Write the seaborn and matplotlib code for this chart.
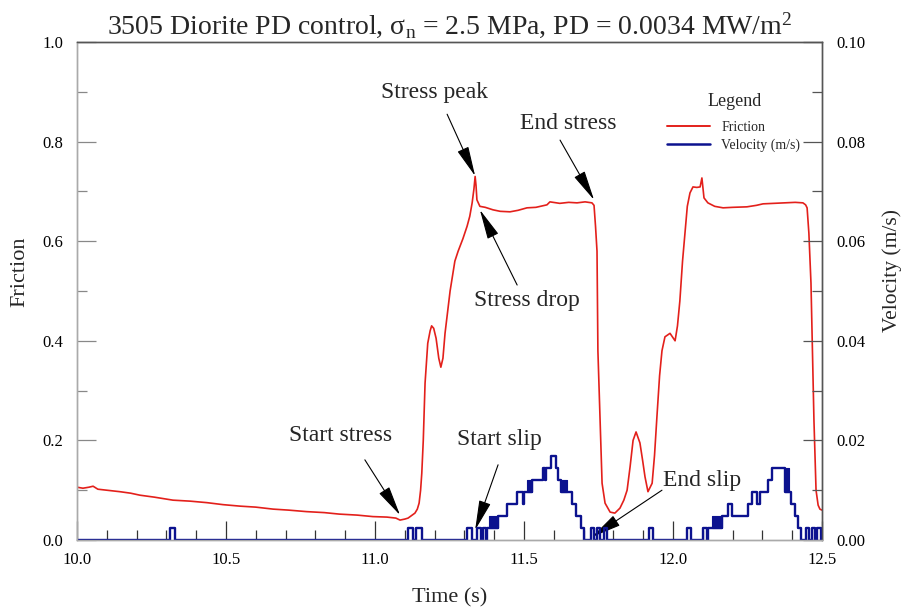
import matplotlib
matplotlib.use("Agg")
import matplotlib.pyplot as plt
import seaborn as sns
import pandas as pd
from matplotlib.ticker import MultipleLocator, FormatStrFormatter
from matplotlib.lines import Line2D

sns.set_theme(style="white")
plt.rcParams["font.family"] = ["Liberation Serif", "DejaVu Serif"]
plt.rcParams["mathtext.fontset"] = "custom"
plt.rcParams["mathtext.rm"] = "Liberation Serif"
plt.rcParams["mathtext.it"] = "Liberation Serif:italic"

# ---------------- data ----------------
fric_t = [10.000, 10.020, 10.040, 10.054, 10.070, 10.100, 10.144, 10.180, 10.211,
          10.260, 10.322, 10.380, 10.436, 10.490, 10.547, 10.600, 10.658, 10.710,
          10.770, 10.830, 10.880, 10.940, 10.993, 11.040, 11.070, 11.084, 11.100,
          11.111, 11.125, 11.134, 11.142, 11.148, 11.153, 11.157, 11.162, 11.168,
          11.177, 11.185, 11.190, 11.197, 11.205, 11.214, 11.221, 11.228, 11.235,
          11.252, 11.268, 11.279, 11.295, 11.309, 11.318, 11.326, 11.332, 11.336,
          11.339, 11.342, 11.352, 11.370, 11.396, 11.420, 11.453, 11.480, 11.510,
          11.540, 11.577, 11.587, 11.620, 11.650, 11.678, 11.705, 11.728, 11.735,
          11.740, 11.745, 11.748, 11.755, 11.762, 11.772, 11.789, 11.805, 11.822,
          11.835, 11.846, 11.856, 11.866, 11.876, 11.889, 11.898, 11.906, 11.916,
          11.930, 11.938, 11.946, 11.955, 11.963, 11.973, 11.990, 12.007, 12.015,
          12.023, 12.032, 12.040, 12.048, 12.057, 12.067, 12.080, 12.091, 12.097,
          12.104, 12.117, 12.140, 12.168, 12.200, 12.248, 12.280, 12.302, 12.340,
          12.383, 12.410, 12.436, 12.445, 12.450, 12.456, 12.463, 12.468, 12.473,
          12.480, 12.487, 12.493, 12.500]
fric_v = [0.106, 0.104, 0.106, 0.108, 0.102, 0.100, 0.097, 0.094, 0.090,
          0.086, 0.080, 0.078, 0.075, 0.071, 0.068, 0.066, 0.062, 0.060,
          0.057, 0.055, 0.052, 0.050, 0.047, 0.046, 0.044, 0.040, 0.042,
          0.044, 0.050, 0.054, 0.062, 0.074, 0.100, 0.134, 0.200, 0.315,
          0.395, 0.420, 0.430, 0.425, 0.405, 0.365, 0.347, 0.365, 0.415,
          0.500, 0.560, 0.580, 0.605, 0.630, 0.650, 0.677, 0.705, 0.730,
          0.712, 0.683, 0.670, 0.668, 0.663, 0.660, 0.659, 0.662, 0.667,
          0.668, 0.673, 0.679, 0.676, 0.678, 0.677, 0.679, 0.677, 0.672,
          0.630, 0.580, 0.380, 0.250, 0.114, 0.074, 0.056, 0.054, 0.064,
          0.080, 0.100, 0.147, 0.200, 0.217, 0.195, 0.160, 0.127, 0.097,
          0.114, 0.170, 0.247, 0.330, 0.380, 0.408, 0.415, 0.400, 0.430,
          0.480, 0.560, 0.616, 0.670, 0.697, 0.709, 0.708, 0.709, 0.727,
          0.687, 0.677, 0.670, 0.667, 0.668, 0.669, 0.672, 0.675, 0.676,
          0.677, 0.678, 0.677, 0.673, 0.667, 0.616, 0.516, 0.380, 0.240,
          0.100, 0.070, 0.062, 0.060]

# velocity (m/s), piecewise constant: value holds from each time to the next
vel_t = [10.000, 10.312, 10.329, 11.111, 11.127, 11.139, 11.157, 11.309, 11.326,
         11.342, 11.356, 11.362, 11.372, 11.376, 11.413, 11.443, 11.476, 11.497,
         11.500, 11.527, 11.565, 11.570, 11.575, 11.590, 11.606, 11.615, 11.625,
         11.660, 11.675, 11.690, 11.700, 11.725, 11.735, 11.745, 11.755, 11.768,
         11.778, 11.919, 11.933, 12.047, 12.060, 12.100, 12.114, 12.118, 12.163,
         12.186, 12.197, 12.253, 12.264, 12.281, 12.292, 12.320, 12.331, 12.376,
         12.395, 12.410, 12.420, 12.430, 12.445, 12.455, 12.465, 12.475, 12.482,
         12.495, 12.500]
vel_v = [0.0, 0.0024, 0.0, 0.0024, 0.0, 0.0024, 0.0, 0.0024, 0.0,
         0.0024, 0.0, 0.0024, 0.0, 0.0024, 0.0048, 0.0072, 0.0096, 0.0072,
         0.0096, 0.0120, 0.0144, 0.0120, 0.0144, 0.0168, 0.0144, 0.0120, 0.0096,
         0.0072, 0.0048, 0.0024, 0.0, 0.0024, 0.0, 0.0024, 0.0, 0.0024,
         0.0, 0.0024, 0.0, 0.0024, 0.0, 0.0024, 0.0, 0.0024, 0.0048,
         0.0072, 0.0048, 0.0072, 0.0096, 0.0072, 0.0096, 0.0120, 0.0144, 0.0096,
         0.0072, 0.0048, 0.0024, 0.0, 0.0024, 0.0, 0.0024, 0.0, 0.0024,
         0.0, 0.0]
# fast flicker between two velocity levels (drawn as solid blocks)
dense_t0 = [11.384, 11.510, 11.625, 12.130, 12.376]
dense_t1 = [11.413, 11.527, 11.645, 12.163, 12.390]
dense_lo = [0.0024, 0.0096, 0.0096, 0.0024, 0.0096]
dense_hi = [0.0048, 0.0120, 0.0120, 0.0048, 0.0144]

title = r"3505 Diorite PD control, $\mathrm{\sigma_{n}}$ = 2.5 MPa, PD = 0.0034 MW/m$^{2}$"

# annotations: label, text position (t, friction), arrow start, arrow tip (t, friction)
ann_label = ["Stress peak", "End stress", "Stress drop", "Start stress", "Start slip", "End slip"]
ann_text = [(11.201, 0.898), (11.648, 0.836), (11.510, 0.480), (10.883, 0.209), (11.416, 0.201), (12.097, 0.120)]
ann_from = [(11.242, 0.855), (11.621, 0.803), (11.477, 0.512), (10.966, 0.161), (11.413, 0.151), (11.963, 0.100)]
ann_to = [(11.336, 0.731), (11.735, 0.683), (11.352, 0.663), (11.084, 0.050), (11.336, 0.020), (11.728, 0.006)]

red = "#e3201b"
navy = "#0c128f"

fig = plt.figure(figsize=(9.02, 6.09), dpi=100)
ax = fig.add_axes([77 / 902, 1 - 540 / 609, (822 - 77) / 902, (540 - 42) / 609])
ax2 = ax.twinx()

dfF = pd.DataFrame({"t": fric_t, "f": fric_v})
dfV = pd.DataFrame({"t": vel_t, "v": vel_v})
sns.lineplot(data=dfF, x="t", y="f", ax=ax, color=red, lw=1.2, estimator=None,
             sort=False, legend=False)
sns.lineplot(data=dfV, x="t", y="v", ax=ax2, color=navy, lw=1.7, estimator=None,
             sort=False, drawstyle="steps-post", legend=False)
for a, b, lo, hi in zip(dense_t0, dense_t1, dense_lo, dense_hi):
    ax2.fill_between([a, b], [lo, lo], [hi, hi], color=navy, lw=0.8, edgecolor=navy)

ax.set_xlim(10.0, 12.5)
ax.set_ylim(0.0, 1.0)
ax2.set_ylim(0.0, 0.10)

ax.xaxis.set_major_locator(MultipleLocator(0.5))
ax.xaxis.set_minor_locator(MultipleLocator(0.1))
ax.xaxis.set_major_formatter(FormatStrFormatter("%.1f"))
ax.yaxis.set_major_locator(MultipleLocator(0.2))
ax.yaxis.set_minor_locator(MultipleLocator(0.1))
ax.yaxis.set_major_formatter(FormatStrFormatter("%.1f"))
ax2.yaxis.set_major_locator(MultipleLocator(0.02))
ax2.yaxis.set_minor_locator(MultipleLocator(0.01))
ax2.yaxis.set_major_formatter(FormatStrFormatter("%.2f"))

ax.tick_params(axis="x", which="both", direction="in", bottom=True, top=False,
               colors="#333333", labelcolor="black", labelsize=12, pad=9)
ax.tick_params(axis="x", which="major", length=14, width=0.9)
ax.tick_params(axis="x", which="minor", length=7, width=0.9)
ax.tick_params(axis="y", which="both", direction="in", left=True, right=False,
               colors="#888888", labelcolor="black", labelsize=12, pad=10)
ax.tick_params(axis="y", which="major", length=14, width=0.9)
ax.tick_params(axis="y", which="minor", length=7, width=0.9)
ax2.tick_params(axis="y", which="both", direction="in", right=True, left=False,
                colors="#555555", labelcolor="black", labelsize=12, pad=10)
ax2.tick_params(axis="y", which="major", length=14, width=0.9)
ax2.tick_params(axis="y", which="minor", length=7, width=0.9)

for s in ["left", "bottom"]:
    ax.spines[s].set_color("#aaaaaa")
    ax2.spines[s].set_color("#aaaaaa")
for s in ["top", "right"]:
    ax.spines[s].set_color("#555555")
    ax2.spines[s].set_color("#555555")
for a in (ax, ax2):
    for s in a.spines.values():
        s.set_linewidth(1.0)

ax.set_xlabel("Time (s)", fontsize=16, labelpad=14)
ax.set_ylabel("Friction", fontsize=16)
ax.yaxis.set_label_coords((29 - 77) / 745, (540 - 272) / 498)
ax2.set_ylabel("Velocity (m/s)", fontsize=15.5)
ax2.yaxis.set_label_coords((882 - 77) / 745, (540 - 270) / 498)
ax.set_title(title, fontsize=20, pad=6)

for lab, tp, fp, tip in zip(ann_label, ann_text, ann_from, ann_to):
    ax.text(tp[0], tp[1], lab, fontsize=17, ha="center", va="center")
    ax.annotate("", xy=tip, xytext=fp, xycoords="data", textcoords="data",
                arrowprops=dict(arrowstyle="-|>,head_length=1.1,head_width=0.22",
                                color="black", lw=0.8, shrinkA=0, shrinkB=0,
                                mutation_scale=17))

handles = [Line2D([], [], color=red, lw=1.4), Line2D([], [], color=navy, lw=1.8)]
labels = ["Friction", "Velocity (m/s)"]
ax2.text((735 - 77) / 745, (540 - 101) / 498, "Legend", transform=ax2.transAxes,
         fontsize=13, ha="center", va="center")
ax2.legend(handles, labels, frameon=False, loc="upper left",
           bbox_to_anchor=((667 - 77) / 745, (540 - 121) / 498), borderaxespad=0,
           borderpad=0, fontsize=10, handlelength=3.1,
           handletextpad=0.8, labelspacing=0.35)

fig.savefig("out.png", dpi=100)
